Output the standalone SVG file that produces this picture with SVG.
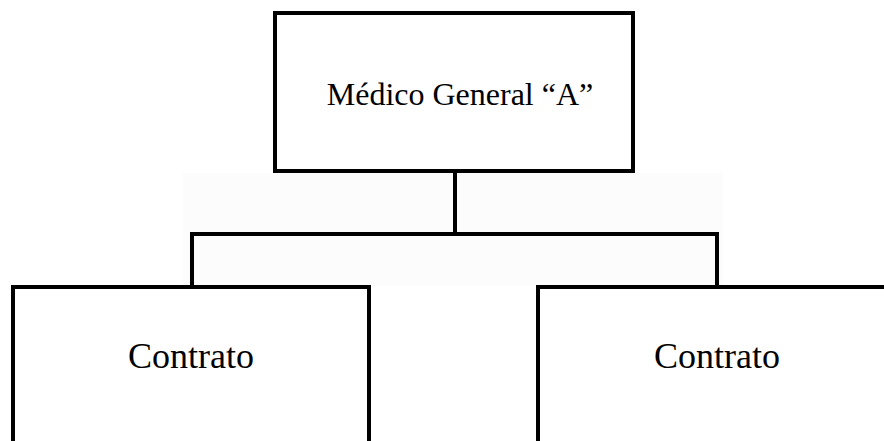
<svg xmlns="http://www.w3.org/2000/svg" width="884" height="441" viewBox="0 0 884 441">
<style>
.box{fill:#ffffff;stroke:#000000;stroke-width:4}
.conn{fill:none;stroke:#000000;stroke-width:4;stroke-linecap:square}
.t{font-family:"Liberation Serif","Times New Roman",serif;fill:#000000;text-anchor:middle}
</style>
<rect x="0" y="0" width="884" height="441" fill="#ffffff"/>
<rect x="183" y="173" width="540" height="113" fill="#fcfcfc"/>
<g id="connectors">
<path class="conn" d="M455 171 V234"/>
<path class="conn" d="M192 234 H717"/>
<path class="conn" d="M192 234 V287"/>
<path class="conn" d="M717 234 V287"/>
</g>
<g id="node-medico">
<rect class="box" x="275" y="13" width="358" height="158"/>
<text class="t" x="460" y="105" font-size="32">Médico General “A”</text>
</g>
<g id="node-contrato-1">
<rect class="box" x="13" y="287" width="356" height="170"/>
<text class="t" x="191" y="368" font-size="36">Contrato</text>
</g>
<g id="node-contrato-2">
<rect class="box" x="538" y="287" width="360" height="170"/>
<text class="t" x="717" y="368" font-size="36">Contrato</text>
</g>
</svg>
